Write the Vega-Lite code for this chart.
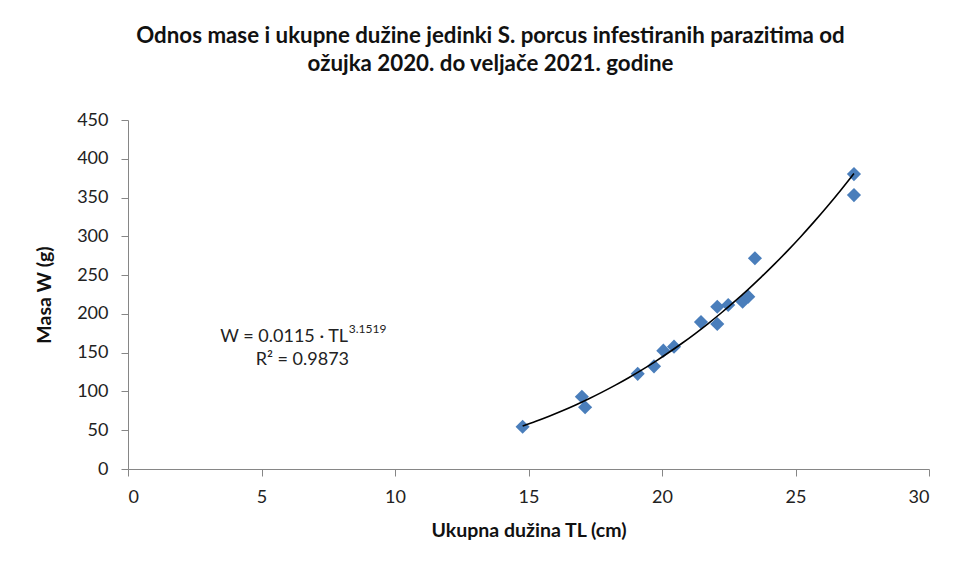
{
  "$schema": "https://vega.github.io/schema/vega-lite/v6.json",
  "width": 801,
  "height": 349,
  "autosize": {"type": "none"},
  "padding": {"left": 128, "top": 120, "right": 27, "bottom": 105},
  "background": "white",
  "config": {
    "font": "Lato",
    "view": {"stroke": null},
    "axis": {
      "domainColor": "#868686",
      "tickColor": "#868686",
      "grid": false,
      "labelFont": "Lato",
      "labelFontSize": 18,
      "labelColor": "#222222",
      "labelOverlap": false,
      "titleFont": "Lato",
      "titleFontSize": 19.5,
      "titleFontWeight": "bold",
      "titleColor": "#111111",
      "tickSize": 7
    }
  },
  "title": {
    "text": ["Odnos mase i ukupne dužine jedinki S. porcus infestiranih parazitima od", "ožujka 2020. do veljače 2021. godine"],
    "font": "Lato",
    "fontSize": 22.3,
    "fontWeight": "bold",
    "color": "#111111",
    "anchor": "middle",
    "dx": -38,
    "offset": 36,
    "lineHeight": 28
  },
  "datasets": {
    "fish": [
      {"TL": 14.78, "W": 54.5},
      {"TL": 17.0, "W": 93.2},
      {"TL": 17.12, "W": 79.6},
      {"TL": 19.09, "W": 122.7},
      {"TL": 19.7, "W": 132.4},
      {"TL": 20.05, "W": 152.6},
      {"TL": 20.45, "W": 157.7},
      {"TL": 21.46, "W": 189.4},
      {"TL": 22.07, "W": 209.2},
      {"TL": 22.07, "W": 186.9},
      {"TL": 22.48, "W": 211.4},
      {"TL": 23.02, "W": 215.7},
      {"TL": 23.23, "W": 222.2},
      {"TL": 23.48, "W": 271.7},
      {"TL": 27.19, "W": 380.3},
      {"TL": 27.19, "W": 353.2}
    ],
    "eq1": [{"label": "W = 0.0115 · TL", "TL": 8.24, "W": 163.7}],
    "eq2": [{"label": "3.1519", "TL": 8.27, "W": 175}],
    "eq3": [{"label": "R² = 0.9873", "TL": 6.53, "W": 134}]
  },
  "encoding": {
    "x": {"field": "TL", "type": "quantitative", "scale": {"domain": [0, 30], "nice": false, "zero": true},
      "axis": {"title": "Ukupna dužina TL (cm)", "values": [0, 5, 10, 15, 20, 25, 30], "labelPadding": 12, "titlePadding": 15}},
    "y": {"field": "W", "type": "quantitative", "scale": {"domain": [0, 450], "nice": false},
      "axis": {"title": "Masa W (g)", "values": [0, 50, 100, 150, 200, 250, 300, 350, 400, 450], "labelPadding": 13, "titlePadding": 22}}
  },
  "layer": [
    {
      "data": {"name": "fish"},
      "mark": {"type": "point", "shape": "diamond", "filled": true, "size": 200, "color": "#4a7ebb", "opacity": 1}
    },
    {
      "data": {"name": "fish"},
      "transform": [{"regression": "W", "on": "TL", "method": "pow", "extent": [14.78, 27.19]}],
      "mark": {"type": "line", "color": "#000000", "strokeWidth": 1.6, "interpolate": "monotone"}
    },
    {
      "data": {"name": "eq1"},
      "mark": {"type": "text", "align": "right", "baseline": "alphabetic", "font": "Lato", "fontSize": 18, "fontWeight": "normal", "color": "#222222"},
      "encoding": {"text": {"field": "label"}}
    },
    {
      "data": {"name": "eq2"},
      "mark": {"type": "text", "align": "left", "baseline": "alphabetic", "font": "Lato", "fontSize": 12, "fontWeight": "normal", "color": "#222222"},
      "encoding": {"text": {"field": "label"}}
    },
    {
      "data": {"name": "eq3"},
      "mark": {"type": "text", "align": "center", "baseline": "alphabetic", "font": "Lato", "fontSize": 18, "fontWeight": "normal", "color": "#222222"},
      "encoding": {"text": {"field": "label"}}
    }
  ]
}
